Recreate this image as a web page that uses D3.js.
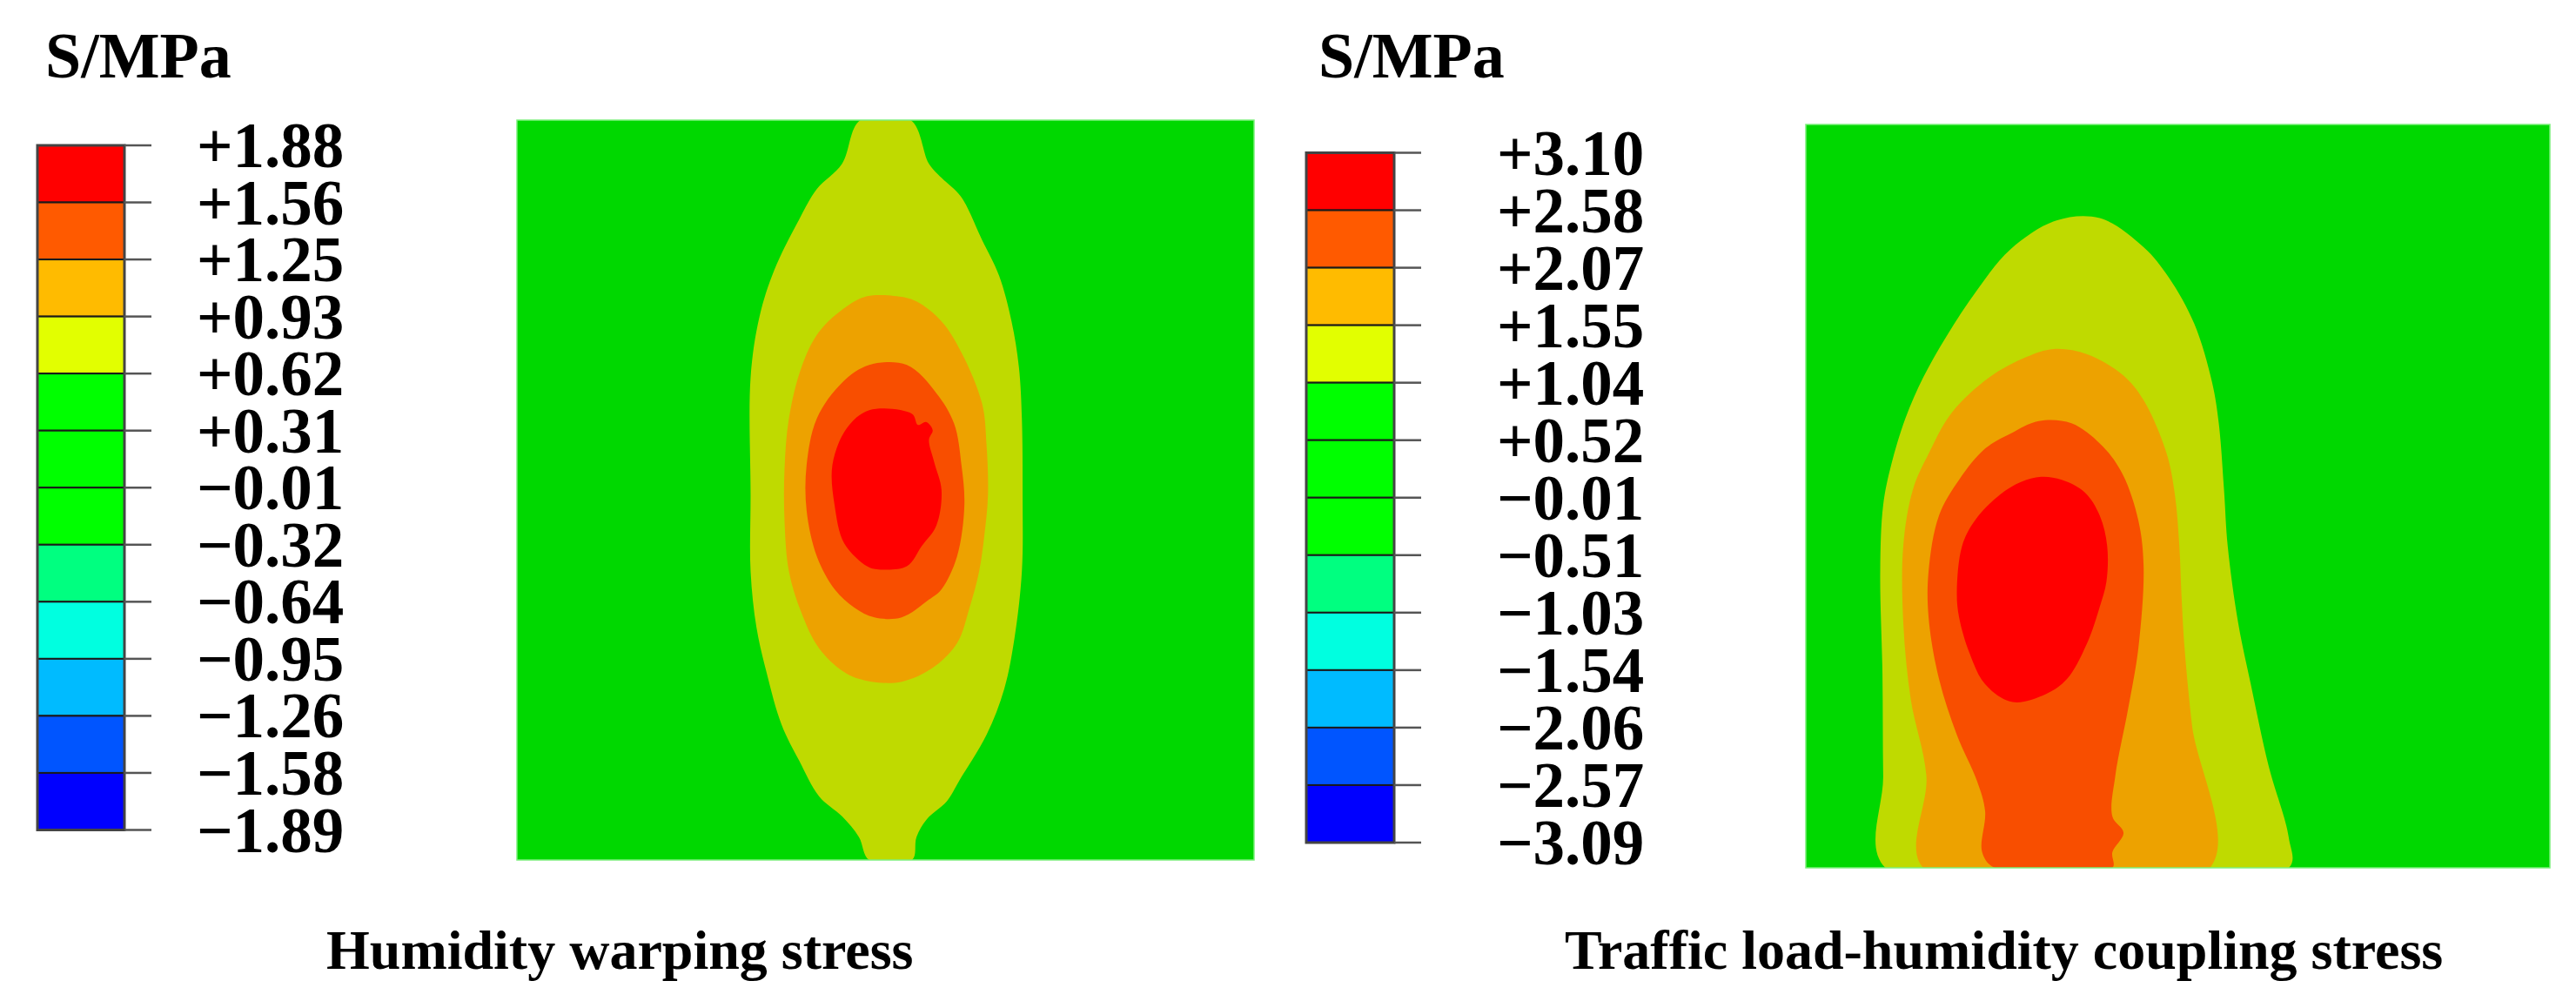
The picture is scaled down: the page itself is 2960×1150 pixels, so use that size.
<!DOCTYPE html>
<html>
<head>
<meta charset="utf-8">
<script src="https://cdn.jsdelivr.net/npm/d3@7"></script>
<style>
  body { margin: 0; background: #fff; }
  text { font-family: "Liberation Serif", "Times New Roman", serif; font-weight: bold; fill: #000; }
</style>
</head>
<body>
<div id="chart"></div>
<script>
// legend bins, top to bottom
var legendColors = ["#FF0000", "#FF5A00", "#FFBB00", "#E2FF00", "#00FF00", "#00FF00",
                    "#00FF00", "#00FF80", "#00FFE0", "#00BBFF", "#0055FF", "#0000FF"];
var leftTicks = ["+1.88", "+1.56", "+1.25", "+0.93", "+0.62", "+0.31", "\u22120.01",
                 "\u22120.32", "\u22120.64", "\u22120.95", "\u22121.26", "\u22121.58", "\u22121.89"];
var rightTicks = ["+3.10", "+2.58", "+2.07", "+1.55", "+1.04", "+0.52", "\u22120.01",
                  "\u22120.51", "\u22121.03", "\u22121.54", "\u22122.06", "\u22122.57", "\u22123.09"];
var titles = ["Humidity warping stress", "Traffic load-humidity coupling stress"];

// contour band colours as shaded in the plot (background first)
var bandColors = ["#00D800", "#BFDA00", "#EDA200", "#F84E00", "#FF0000"];

// contour outlines, [u, v] in plot fractions (0..1 across, 0..1 down)
var leftYellow = [[0.466,0],[0.534,0],[0.559,0.059],[0.576,0.078],[0.602,0.103],[0.631,0.162],[0.654,0.210],
  [0.671,0.272],[0.681,0.334],[0.685,0.403],[0.686,0.507],[0.685,0.610],[0.675,0.700],[0.661,0.769],
  [0.637,0.831],[0.600,0.893],[0.583,0.921],[0.556,0.945],[0.542,0.969],[0.536,1],[0.478,1],[0.464,0.969],
  [0.441,0.941],[0.410,0.914],[0.383,0.866],[0.359,0.817],[0.339,0.748],[0.325,0.686],[0.317,0.610],
  [0.317,0.507],[0.317,0.348],[0.329,0.266],[0.349,0.203],[0.383,0.134],[0.407,0.093],[0.441,0.059]];
var leftOrange = [[0.475,0.238],[0.515,0.238],[0.542,0.245],[0.576,0.272],[0.603,0.314],[0.631,0.383],
  [0.637,0.438],[0.639,0.507],[0.634,0.562],[0.627,0.610],[0.614,0.659],[0.597,0.707],[0.563,0.741],
  [0.522,0.759],[0.481,0.759],[0.447,0.748],[0.410,0.714],[0.386,0.666],[0.369,0.610],[0.363,0.541],
  [0.363,0.472],[0.369,0.403],[0.386,0.334],[0.410,0.286],[0.447,0.252]];
var leftOrangeRed = [[0.478,0.331],[0.529,0.331],[0.569,0.369],[0.593,0.410],[0.603,0.466],[0.607,0.521],
  [0.597,0.590],[0.576,0.634],[0.559,0.648],[0.522,0.672],[0.485,0.672],[0.458,0.659],[0.431,0.634],
  [0.407,0.590],[0.393,0.528],[0.393,0.466],[0.407,0.403],[0.441,0.355]];
var leftRed = [[0.478,0.392],[0.536,0.397],[0.544,0.412],[0.555,0.408],[0.564,0.419],[0.559,0.432],
  [0.566,0.462],[0.576,0.500],[0.569,0.548],[0.549,0.576],[0.529,0.603],[0.488,0.607],[0.475,0.603],
  [0.444,0.572],[0.431,0.521],[0.428,0.466],[0.447,0.417]];

var rightYellow = [[0.107,1],[0.104,0.876],[0.103,0.739],[0.100,0.601],[0.104,0.512],[0.115,0.457],
  [0.134,0.395],[0.158,0.340],[0.189,0.285],[0.230,0.223],[0.275,0.168],[0.337,0.129],[0.395,0.126],
  [0.454,0.165],[0.488,0.206],[0.522,0.268],[0.546,0.347],[0.555,0.402],[0.562,0.491],[0.567,0.567],
  [0.581,0.670],[0.598,0.753],[0.622,0.863],[0.649,0.959],[0.649,1]];
var rightOrange = [[0.158,1],[0.162,0.876],[0.141,0.773],[0.131,0.670],[0.131,0.567],[0.144,0.491],
  [0.165,0.443],[0.196,0.388],[0.247,0.340],[0.296,0.313],[0.333,0.302],[0.378,0.309],[0.426,0.337],
  [0.454,0.371],[0.485,0.443],[0.496,0.498],[0.502,0.567],[0.505,0.636],[0.509,0.704],[0.519,0.808],
  [0.543,1]];
var rightOrangeRed = [[0.254,1],[0.237,0.979],[0.241,0.924],[0.230,0.883],[0.203,0.821],[0.179,0.746],
  [0.165,0.663],[0.165,0.601],[0.179,0.526],[0.206,0.478],[0.241,0.436],[0.275,0.416],[0.313,0.399],
  [0.357,0.402],[0.399,0.433],[0.426,0.471],[0.447,0.533],[0.454,0.595],[0.447,0.704],[0.433,0.787],
  [0.416,0.876],[0.412,0.931],[0.427,0.953],[0.412,0.979],[0.412,1]];
var rightRed = [[0.316,0.474],[0.344,0.478],[0.375,0.495],[0.395,0.526],[0.405,0.567],[0.404,0.615],
  [0.395,0.649],[0.378,0.698],[0.351,0.746],[0.323,0.766],[0.278,0.777],[0.241,0.753],[0.220,0.711],
  [0.206,0.663],[0.203,0.629],[0.210,0.567],[0.227,0.533],[0.261,0.498],[0.289,0.481]];

var W = 2960, H = 1150;
var svg = d3.select("#chart").append("svg")
  .attr("width", W).attr("height", H);

function drawLegend(cfg){
  var y = d3.scaleLinear().domain([0, legendColors.length]).range([cfg.top, cfg.bottom]);
  var g = svg.append("g");

  g.append("text")
    .attr("x", cfg.unitX).attr("y", 89)
    .style("font-size", "74px")
    .text("S/MPa");

  g.selectAll("rect.bin")
    .data(legendColors)
    .enter().append("rect")
      .attr("class", "bin")
      .attr("x", cfg.left)
      .attr("y", function(d, i){ return y(i); })
      .attr("width", cfg.right - cfg.left)
      .attr("height", function(d, i){ return y(i + 1) - y(i); })
      .attr("fill", function(d){ return d; })
      .attr("stroke", "#1a1a1a")
      .attr("stroke-width", 2);

  g.append("rect")
    .attr("x", cfg.left).attr("y", cfg.top)
    .attr("width", cfg.right - cfg.left).attr("height", cfg.bottom - cfg.top)
    .attr("fill", "none").attr("stroke", "#444").attr("stroke-width", 3);

  // ticks and labels on each bin boundary
  g.selectAll("line.tick")
    .data(cfg.ticks)
    .enter().append("line")
      .attr("x1", cfg.right).attr("x2", cfg.right + 31)
      .attr("y1", function(d, i){ return y(i); })
      .attr("y2", function(d, i){ return y(i); })
      .attr("stroke", "#555").attr("stroke-width", 2.5);

  g.selectAll("text.lab")
    .data(cfg.ticks)
    .enter().append("text")
      .attr("class", "lab")
      .attr("x", cfg.labelX)
      .attr("y", function(d, i){ return y(i) + 25; })
      .style("font-size", "73px")
      .text(function(d){ return d; });
}

function drawPlot(cfg){
  var x = d3.scaleLinear().domain([0, 1]).range([cfg.left, cfg.right]);
  var y = d3.scaleLinear().domain([0, 1]).range([cfg.top, cfg.bottom]);
  var line = d3.line()
    .x(function(d){ return x(d[0]); })
    .y(function(d){ return y(d[1]); })
    .curve(d3.curveCatmullRomClosed.alpha(0.5));

  svg.append("clipPath").attr("id", cfg.id)
    .append("rect")
      .attr("x", x(0)).attr("y", y(0))
      .attr("width", x(1) - x(0)).attr("height", y(1) - y(0));

  var g = svg.append("g").attr("clip-path", "url(#" + cfg.id + ")");
  g.append("rect")
    .attr("x", x(0)).attr("y", y(0))
    .attr("width", x(1) - x(0)).attr("height", y(1) - y(0))
    .attr("fill", bandColors[0]);

  g.selectAll("path.band")
    .data(cfg.bands)
    .enter().append("path")
      .attr("class", "band")
      .attr("d", line)
      .attr("fill", function(d, i){ return bandColors[i + 1]; });

  // faint light edge round the model
  svg.append("rect")
    .attr("x", x(0)).attr("y", y(0))
    .attr("width", x(1) - x(0)).attr("height", y(1) - y(0))
    .attr("fill", "none").attr("stroke", "#7CF07C").attr("stroke-width", 1.5);

  svg.append("text")
    .attr("x", cfg.titleX).attr("y", 1113)
    .style("font-size", "64px")
    .text(cfg.title);
}

drawLegend({left: 43, right: 143, top: 167, bottom: 953.5, unitX: 52, labelX: 226, ticks: leftTicks});
drawLegend({left: 1501, right: 1602, top: 175.5, bottom: 968, unitX: 1515, labelX: 1720, ticks: rightTicks});

drawPlot({id: "clipL", left: 594, right: 1441, top: 138, bottom: 988, titleX: 375, title: titles[0],
  bands: [leftYellow, leftOrange, leftOrangeRed, leftRed]});
drawPlot({id: "clipR", left: 2075, right: 2930, top: 143, bottom: 997, titleX: 1798, title: titles[1],
  bands: [rightYellow, rightOrange, rightOrangeRed, rightRed]});
</script>
</body>
</html>
